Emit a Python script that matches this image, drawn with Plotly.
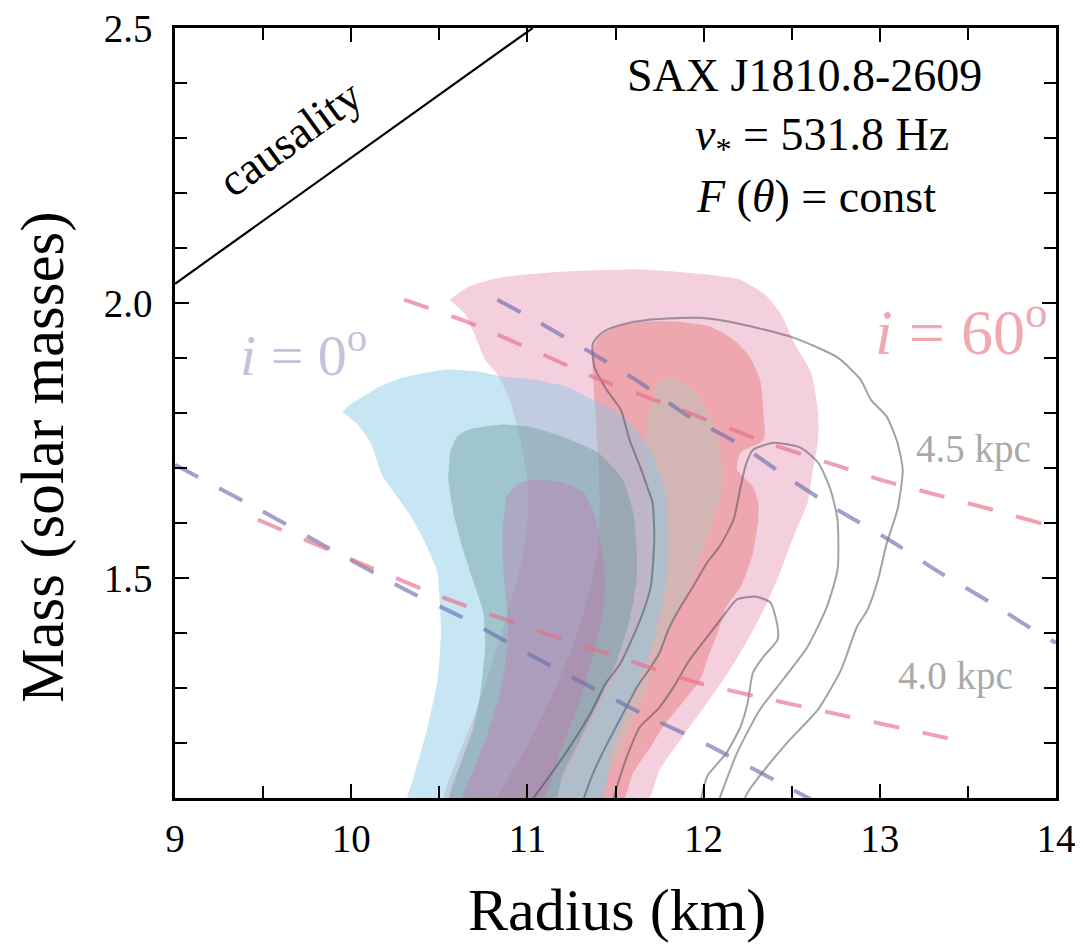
import plotly.graph_objects as go

# ---------------- data (radius in km, mass in solar masses) ----------------
# i = 0 deg credible regions
blue95_R = [9.95, 9.99, 10.07, 10.16, 10.26, 10.37, 10.54, 10.73, 10.86, 11.03, 11.22, 11.37, 11.53, 11.64,
            11.72, 11.78, 11.80, 11.80, 11.77, 11.70, 11.59, 11.48, 11.41, 10.32, 10.35, 10.43, 10.49, 10.51,
            10.50, 10.49, 10.43, 10.35, 10.26, 10.18, 10.11, 10.03]
blue95_M = [1.802, 1.815, 1.830, 1.848, 1.861, 1.870, 1.879, 1.875, 1.866, 1.861, 1.848, 1.824, 1.797, 1.761,
            1.715, 1.661, 1.588, 1.533, 1.461, 1.370, 1.279, 1.188, 1.09, 1.09, 1.133, 1.224, 1.315, 1.406,
            1.466, 1.510, 1.557, 1.606, 1.648, 1.684, 1.746, 1.782]

blue68_R = [10.56, 10.60, 10.67, 10.86, 11.01, 11.20, 11.40, 11.54, 11.60, 11.62, 11.62, 11.58, 11.51, 11.41,
            11.30, 11.20, 11.15, 10.56, 10.63, 10.69, 10.73, 10.76, 10.75, 10.69, 10.63, 10.58, 10.55]
blue68_M = [1.728, 1.757, 1.770, 1.779, 1.775, 1.757, 1.728, 1.679, 1.619, 1.557, 1.497, 1.424, 1.352, 1.279,
            1.206, 1.143, 1.09, 1.09, 1.170, 1.224, 1.284, 1.375, 1.437, 1.497, 1.557, 1.619, 1.679]

bluecore_R = [10.88, 10.94, 11.05, 11.20, 11.32, 11.38, 11.42, 11.44, 11.43, 11.38, 11.30, 11.19, 11.07,
              10.63, 10.72, 10.80, 10.86, 10.89, 10.88, 10.86, 10.86]
bluecore_M = [1.648, 1.670, 1.679, 1.673, 1.655, 1.615, 1.557, 1.497, 1.442, 1.370, 1.279, 1.188, 1.09,
              1.09, 1.170, 1.242, 1.315, 1.388, 1.461, 1.533, 1.597]

# i = 60 deg credible regions
pink95_R = [10.56, 10.67, 10.84, 11.19, 11.64, 11.98, 12.21, 12.35, 12.44, 12.52, 12.61, 12.65, 12.65, 12.62,
            12.59, 12.51, 12.44, 12.36, 12.26, 12.15, 12.02, 11.88, 11.75, 11.67, 10.53, 10.60, 10.69, 10.77,
            10.84, 10.91, 10.97, 11.00, 11.00, 10.96, 10.90, 10.83, 10.76, 10.70, 10.65]
pink95_M = [2.006, 2.030, 2.046, 2.057, 2.061, 2.053, 2.042, 2.015, 1.979, 1.924, 1.873, 1.801, 1.751, 1.697,
            1.637, 1.575, 1.515, 1.455, 1.393, 1.333, 1.273, 1.211, 1.151, 1.09, 1.09, 1.170, 1.242, 1.315,
            1.388, 1.461, 1.533, 1.606, 1.679, 1.751, 1.824, 1.870, 1.897, 1.943, 1.979]

pink68_R = [11.37, 11.41, 11.51, 11.66, 11.85, 12.04, 12.17, 12.26, 12.32, 12.34, 12.34, 12.21, 12.19, 12.28,
            12.31, 12.31, 12.28, 12.25, 12.21, 12.13, 12.08, 12.02, 11.98, 11.88, 11.77, 11.70, 11.60, 11.53,
            10.83, 10.99, 11.13, 11.25, 11.34, 11.40, 11.41, 11.40, 11.38, 11.37]
pink68_M = [1.915, 1.939, 1.957, 1.966, 1.966, 1.957, 1.933, 1.903, 1.861, 1.801, 1.751, 1.728, 1.697, 1.666,
            1.637, 1.606, 1.546, 1.515, 1.484, 1.448, 1.400, 1.351, 1.315, 1.273, 1.230, 1.193, 1.146, 1.09,
            1.09, 1.188, 1.279, 1.370, 1.461, 1.551, 1.642, 1.733, 1.824, 1.879]

pinkcore_R = [11.77, 11.87, 11.94, 12.02, 12.08, 12.11, 12.09, 12.02, 11.92, 11.83, 11.75, 11.68, 11.60, 11.53,
              11.44, 11.38, 11.13, 11.27, 11.38, 11.50, 11.59, 11.67, 11.71, 11.70, 11.68, 11.67, 11.69, 11.72]
pinkcore_M = [1.864, 1.857, 1.842, 1.801, 1.751, 1.679, 1.642, 1.575, 1.484, 1.424, 1.364, 1.302, 1.242, 1.188,
              1.133, 1.09, 1.09, 1.170, 1.242, 1.315, 1.388, 1.461, 1.533, 1.606, 1.679, 1.751, 1.801, 1.842]

# grey contours
grey_outer_R = [11.01, 11.11, 11.23, 11.36, 11.44, 11.53, 11.64, 11.70, 11.72, 11.71, 11.68, 11.64, 11.58, 11.53,
                11.45, 11.38, 11.37, 11.40, 11.45, 11.54, 11.70, 11.98, 12.22, 12.51, 12.76, 12.89, 12.95,
                13.04, 13.10, 13.13, 13.10, 13.04, 12.99, 12.93, 12.87, 12.78, 12.65, 12.49, 12.36, 12.25, 12.22]
grey_outer_M = [1.09, 1.133, 1.188, 1.255, 1.306, 1.346, 1.424, 1.484, 1.575, 1.637, 1.666, 1.702, 1.751, 1.806,
                1.842, 1.884, 1.924, 1.939, 1.951, 1.961, 1.970, 1.973, 1.961, 1.937, 1.901, 1.861, 1.824,
                1.793, 1.746, 1.697, 1.624, 1.564, 1.497, 1.442, 1.411, 1.333, 1.261, 1.206, 1.157, 1.110, 1.09]

grey_mid_R = [11.31, 11.37, 11.45, 11.54, 11.63, 11.69, 11.75, 11.80, 11.87, 11.94, 12.02, 12.09, 12.17, 12.21,
              12.24, 12.28, 12.40, 12.55, 12.65, 12.72, 12.76, 12.76, 12.70, 12.59, 12.45, 12.32, 12.19, 12.08]
grey_mid_M = [1.09, 1.143, 1.197, 1.252, 1.306, 1.333, 1.364, 1.406, 1.448, 1.484, 1.528, 1.557, 1.606, 1.666,
              1.706, 1.733, 1.746, 1.737, 1.710, 1.661, 1.606, 1.515, 1.448, 1.375, 1.315, 1.261, 1.182, 1.09]

grey_inner_R = [11.48, 11.53, 11.58, 11.64, 11.74, 11.83, 11.92, 12.02, 12.11, 12.19, 12.30, 12.38, 12.42,
                12.42, 12.34, 12.28, 12.25, 12.21, 12.13, 12.02, 11.98]
grey_inner_M = [1.09, 1.143, 1.188, 1.230, 1.261, 1.302, 1.351, 1.393, 1.430, 1.461, 1.466, 1.455, 1.411,
                1.388, 1.357, 1.328, 1.273, 1.230, 1.182, 1.139, 1.09]

# distance curves (4.5 and 4.0 kpc) for each inclination
d45_i0_R = [10.83, 11.07, 11.36, 11.64, 11.92, 12.21, 12.48, 12.76, 13.05, 13.33, 13.62, 13.90, 14.0]
d45_i0_M = [2.006, 1.964, 1.910, 1.855, 1.793, 1.742, 1.682, 1.624, 1.570, 1.512, 1.457, 1.400, 1.382]
d40_i0_R = [9.0, 9.48, 9.92, 10.33, 10.62, 11.07, 11.64, 12.02, 12.47, 12.72]
d40_i0_M = [1.706, 1.624, 1.546, 1.475, 1.430, 1.351, 1.255, 1.197, 1.121, 1.079]
d45_i60_R = [10.30, 10.67, 11.09, 11.37, 11.87, 12.36, 12.78, 13.00, 13.36, 13.64, 13.92, 14.0]
d45_i60_M = [2.006, 1.964, 1.906, 1.866, 1.806, 1.746, 1.702, 1.679, 1.648, 1.624, 1.599, 1.593]
d40_i60_R = [9.47, 9.94, 10.55, 10.96, 11.24, 11.51, 11.96, 12.38, 12.82, 13.24, 13.51]
d40_i60_M = [1.606, 1.542, 1.461, 1.415, 1.384, 1.357, 1.310, 1.279, 1.248, 1.219, 1.200]

causality_R = [9.0, 11.03]
causality_M = [2.035, 2.5]

x_ticks = [9, 10, 11, 12, 13, 14]
y_ticks = [1.5, 2.0, 2.5]

# ---------------- figure ----------------
SERIF = "Liberation Serif, Times New Roman, serif"
fig = go.Figure()


def region(R, M, color):
    fig.add_trace(go.Scatter(x=R, y=M, mode="lines", fill="toself", fillcolor=color,
                             line=dict(width=0, shape="spline", smoothing=0.6),
                             hoverinfo="skip", showlegend=False))


def curve(R, M, color, width, dash=None):
    fig.add_trace(go.Scatter(x=R, y=M, mode="lines",
                             line=dict(color=color, width=width, dash=dash, shape="spline", smoothing=0.6),
                             hoverinfo="skip", showlegend=False))


region(pink95_R, pink95_M, "rgba(211,63,123,0.25)")
region(pink68_R, pink68_M, "rgba(230,77,65,0.30)")
region(pinkcore_R, pinkcore_M, "rgba(160,211,189,0.35)")
region(blue95_R, blue95_M, "rgba(130,200,228,0.45)")
region(blue68_R, blue68_M, "rgba(100,150,150,0.40)")
region(bluecore_R, bluecore_M, "rgba(205,100,170,0.30)")

curve(grey_outer_R, grey_outer_M, "rgba(70,70,85,0.50)", 2)
curve(grey_mid_R, grey_mid_M, "rgba(70,70,85,0.50)", 2)
curve(grey_inner_R, grey_inner_M, "rgba(70,70,85,0.50)", 2)

curve(d45_i0_R, d45_i0_M, "rgba(110,110,175,0.65)", 4, "26px,24px")
curve(d40_i0_R, d40_i0_M, "rgba(110,110,175,0.65)", 4, "26px,24px")
curve(d45_i60_R, d45_i60_M, "rgba(230,110,135,0.65)", 4, "26px,24px")
curve(d40_i60_R, d40_i60_M, "rgba(230,110,135,0.65)", 4, "26px,24px")

fig.add_trace(go.Scatter(x=causality_R, y=causality_M, mode="lines",
                         line=dict(color="black", width=2.2), hoverinfo="skip", showlegend=False))

axis_common = dict(showline=True, linecolor="black", linewidth=2.5, mirror="ticks",
                   ticks="inside", ticklen=14, tickwidth=2, tickcolor="black",
                   showgrid=False, zeroline=False, ticklabeloverflow="allow", automargin=False,
                   tickfont=dict(family=SERIF, size=39, color="black"))

fig.update_xaxes(range=[9, 14], tickvals=x_ticks, ticktext=[str(v) for v in x_ticks],
                 ticklabelstandoff=4,
                 minor=dict(dtick=0.5, tick0=9, ticks="inside", ticklen=12, tickwidth=2, tickcolor="black"),
                 **axis_common)
fig.update_yaxes(range=[1.1, 2.5], tickvals=y_ticks, ticktext=["%.1f" % v for v in y_ticks],
                 ticklabelstandoff=12,
                 minor=dict(dtick=0.1, tick0=1.5, ticks="inside", ticklen=12, tickwidth=2, tickcolor="black"),
                 **axis_common)

ann = []
ann.append(dict(x=12.57, y=2.413, xref="x", yref="y", text="SAX J1810.8-2609", showarrow=False,
                font=dict(family=SERIF, size=46, color="black"), xanchor="center", yanchor="middle"))
ann.append(dict(x=12.67, y=2.300, xref="x", yref="y", text="<i>ν</i><sub>*</sub> = 531.8 Hz", showarrow=False,
                font=dict(family=SERIF, size=46, color="black"), xanchor="center", yanchor="middle"))
ann.append(dict(x=12.64, y=2.194, xref="x", yref="y", text="<i>F</i> (<i>θ</i>) = const", showarrow=False,
                font=dict(family=SERIF, size=46, color="black"), xanchor="center", yanchor="middle"))
ann.append(dict(x=9.65, y=2.30, xref="x", yref="y", text="causality", showarrow=False, textangle=-36,
                font=dict(family=SERIF, size=46, color="black"), xanchor="center", yanchor="middle"))
ann.append(dict(x=9.36, y=1.912, xref="x", yref="y", text="<i>i</i> = 0<sup>o</sup>", showarrow=False,
                font=dict(family=SERIF, size=58, color="#c5c2dc"), xanchor="left", yanchor="middle"))
ann.append(dict(x=13.96, y=1.955, xref="x", yref="y", text="<i>i</i> = 60<sup>o</sup>", showarrow=False,
                font=dict(family=SERIF, size=64, color="#f0a9b3"), xanchor="right", yanchor="middle"))
ann.append(dict(x=13.53, y=1.735, xref="x", yref="y", text="4.5 kpc", showarrow=False,
                font=dict(family=SERIF, size=39, color="#aaaaaa"), xanchor="center", yanchor="middle"))
ann.append(dict(x=13.43, y=1.322, xref="x", yref="y", text="4.0 kpc", showarrow=False,
                font=dict(family=SERIF, size=39, color="#aaaaaa"), xanchor="center", yanchor="middle"))
ann.append(dict(x=0.502, y=-0.145, xref="paper", yref="paper", text="Radius (km)", showarrow=False,
                font=dict(family=SERIF, size=60, color="black"), xanchor="center", yanchor="middle"))
ann.append(dict(x=-0.150, y=0.443, xref="paper", yref="paper", text="Mass (solar masses)", showarrow=False,
                textangle=-90, font=dict(family=SERIF, size=61, color="black"),
                xanchor="center", yanchor="middle"))

# page body has an 8 px margin, so the figure is 16 px smaller than the window
fig.update_layout(width=1067, height=935, margin=dict(l=167, r=19, t=20, b=145, autoexpand=False),
                  plot_bgcolor="white", paper_bgcolor="white", showlegend=False,
                  annotations=ann)

fig.write_html("out.html")
